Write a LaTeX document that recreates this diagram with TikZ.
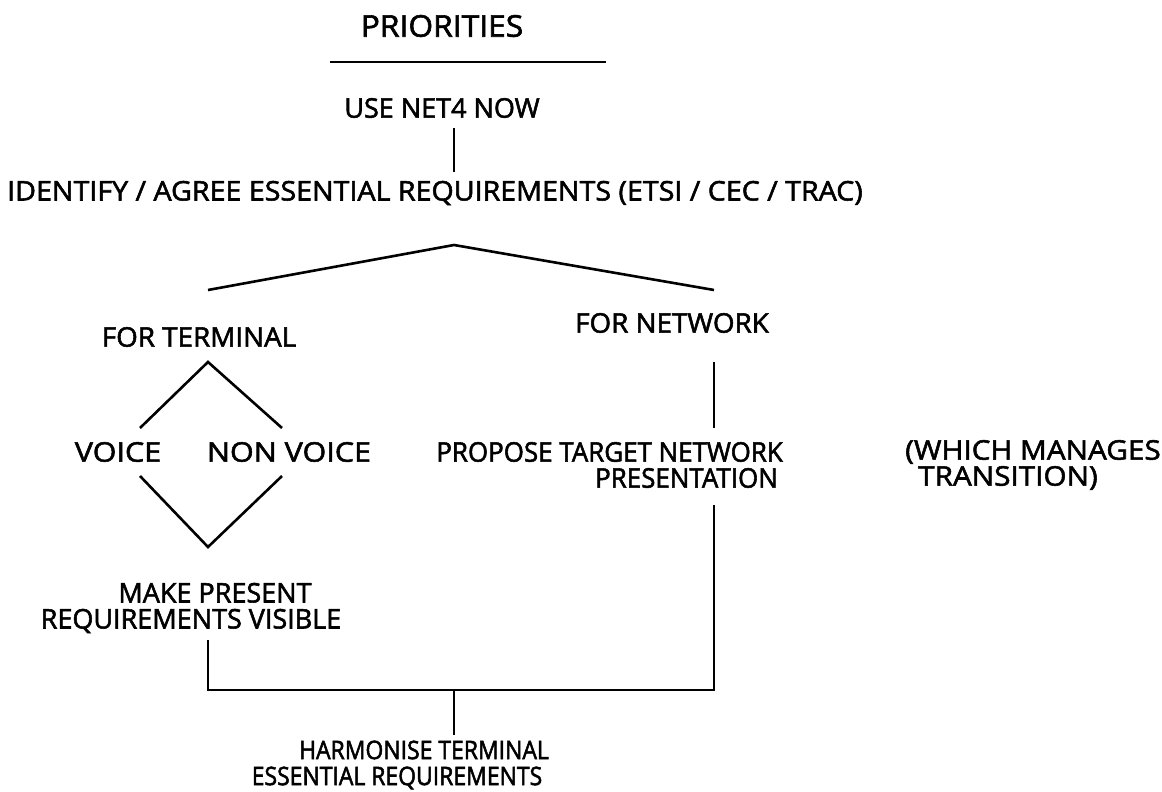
\documentclass[tikz,border=0pt]{standalone}
\usepackage{fontspec}
\setmainfont{Open Sans}[FakeBold=2]
\usetikzlibrary{positioning}

\tikzset{
  lbl/.style={font=\fontsize{27}{26}\selectfont\addfontfeature{FakeStretch=#1},
    inner sep=0pt, align=center},
  lbl/.default=1,
  sml/.style={lbl, font=\fontsize{25.5}{26}\selectfont\addfontfeature{FakeStretch=0.9}},
  ttl/.style={font=\fontsize{30}{30}\selectfont\addfontfeature{FakeStretch=1.06}, inner sep=0pt},
  ln/.style={line width=2.6pt}
}

\begin{document}
\begin{tikzpicture}[x=1pt,y=-1pt]
\useasboundingbox (0,0) rectangle (1162,792);
% heading
\node[ttl] (title) at (442,26) {PRIORITIES};
\coordinate (ul1) at (330,62);
\coordinate (ul2) at (606,62);
\draw[ln] (ul1)--(ul2);
\node[lbl] (use) at (442,108) {USE NET4 NOW};
\coordinate (u1) at (454,128);
\coordinate (u2) at (454,172);
\draw[ln] (u1)--(u2);
\node[lbl=1.06] (ident) at (435,193) {IDENTIFY / AGREE ESSENTIAL REQUIREMENTS (ETSI / CEC / TRAC)};
% split
\coordinate (apex) at (454,245);
\coordinate (tl) at (208,290);
\coordinate (tr) at (714,290);
\draw[ln] (tl)--(apex)--(tr);
\node[lbl=1.03] (term) at (199,337) {FOR TERMINAL};
\node[lbl=1.03] (net) at (672,323) {FOR NETWORK};
% terminal branch
\coordinate (dt) at (208,362);
\coordinate (dl) at (140,428);
\coordinate (dr) at (282,428);
\coordinate (bl) at (140,476);
\coordinate (br) at (282,476);
\coordinate (db) at (208,547);
\draw[ln] (dl)--(dt)--(dr) (bl)--(db)--(br);
\node[lbl=1.13] (voice) at (118,452) {VOICE};
\node[lbl=1.13] (nonvoice) at (289,452) {NON VOICE};
\node[lbl] (make) at (191,608) {\hspace*{48pt}MAKE PRESENT\\REQUIREMENTS VISIBLE};
% network branch
\coordinate (n1) at (714,362);
\coordinate (n2) at (714,428);
\draw[ln] (n1)--(n2);
\node[lbl=0.96, align=right, anchor=east] (propose) at (783,465) {PROPOSE TARGET NETWORK\\PRESENTATION\hspace*{5pt}};
\node[lbl=1.1, align=left, anchor=west] (which) at (905,465) {(WHICH MANAGES\\\hspace*{13pt}TRANSITION)};
% join
\coordinate (p1) at (714,505);
\coordinate (p2) at (714,690);
\coordinate (m1) at (208,640);
\coordinate (m2) at (208,690);
\coordinate (h1) at (454,690);
\coordinate (h2) at (454,735);
\draw[ln] (m1)--(m2)--(p2)--(p1) (h1)--(h2);
\node[sml] (harm) at (397,765) {\hspace*{54pt}HARMONISE TERMINAL\\ESSENTIAL REQUIREMENTS};
\end{tikzpicture}
\end{document}
